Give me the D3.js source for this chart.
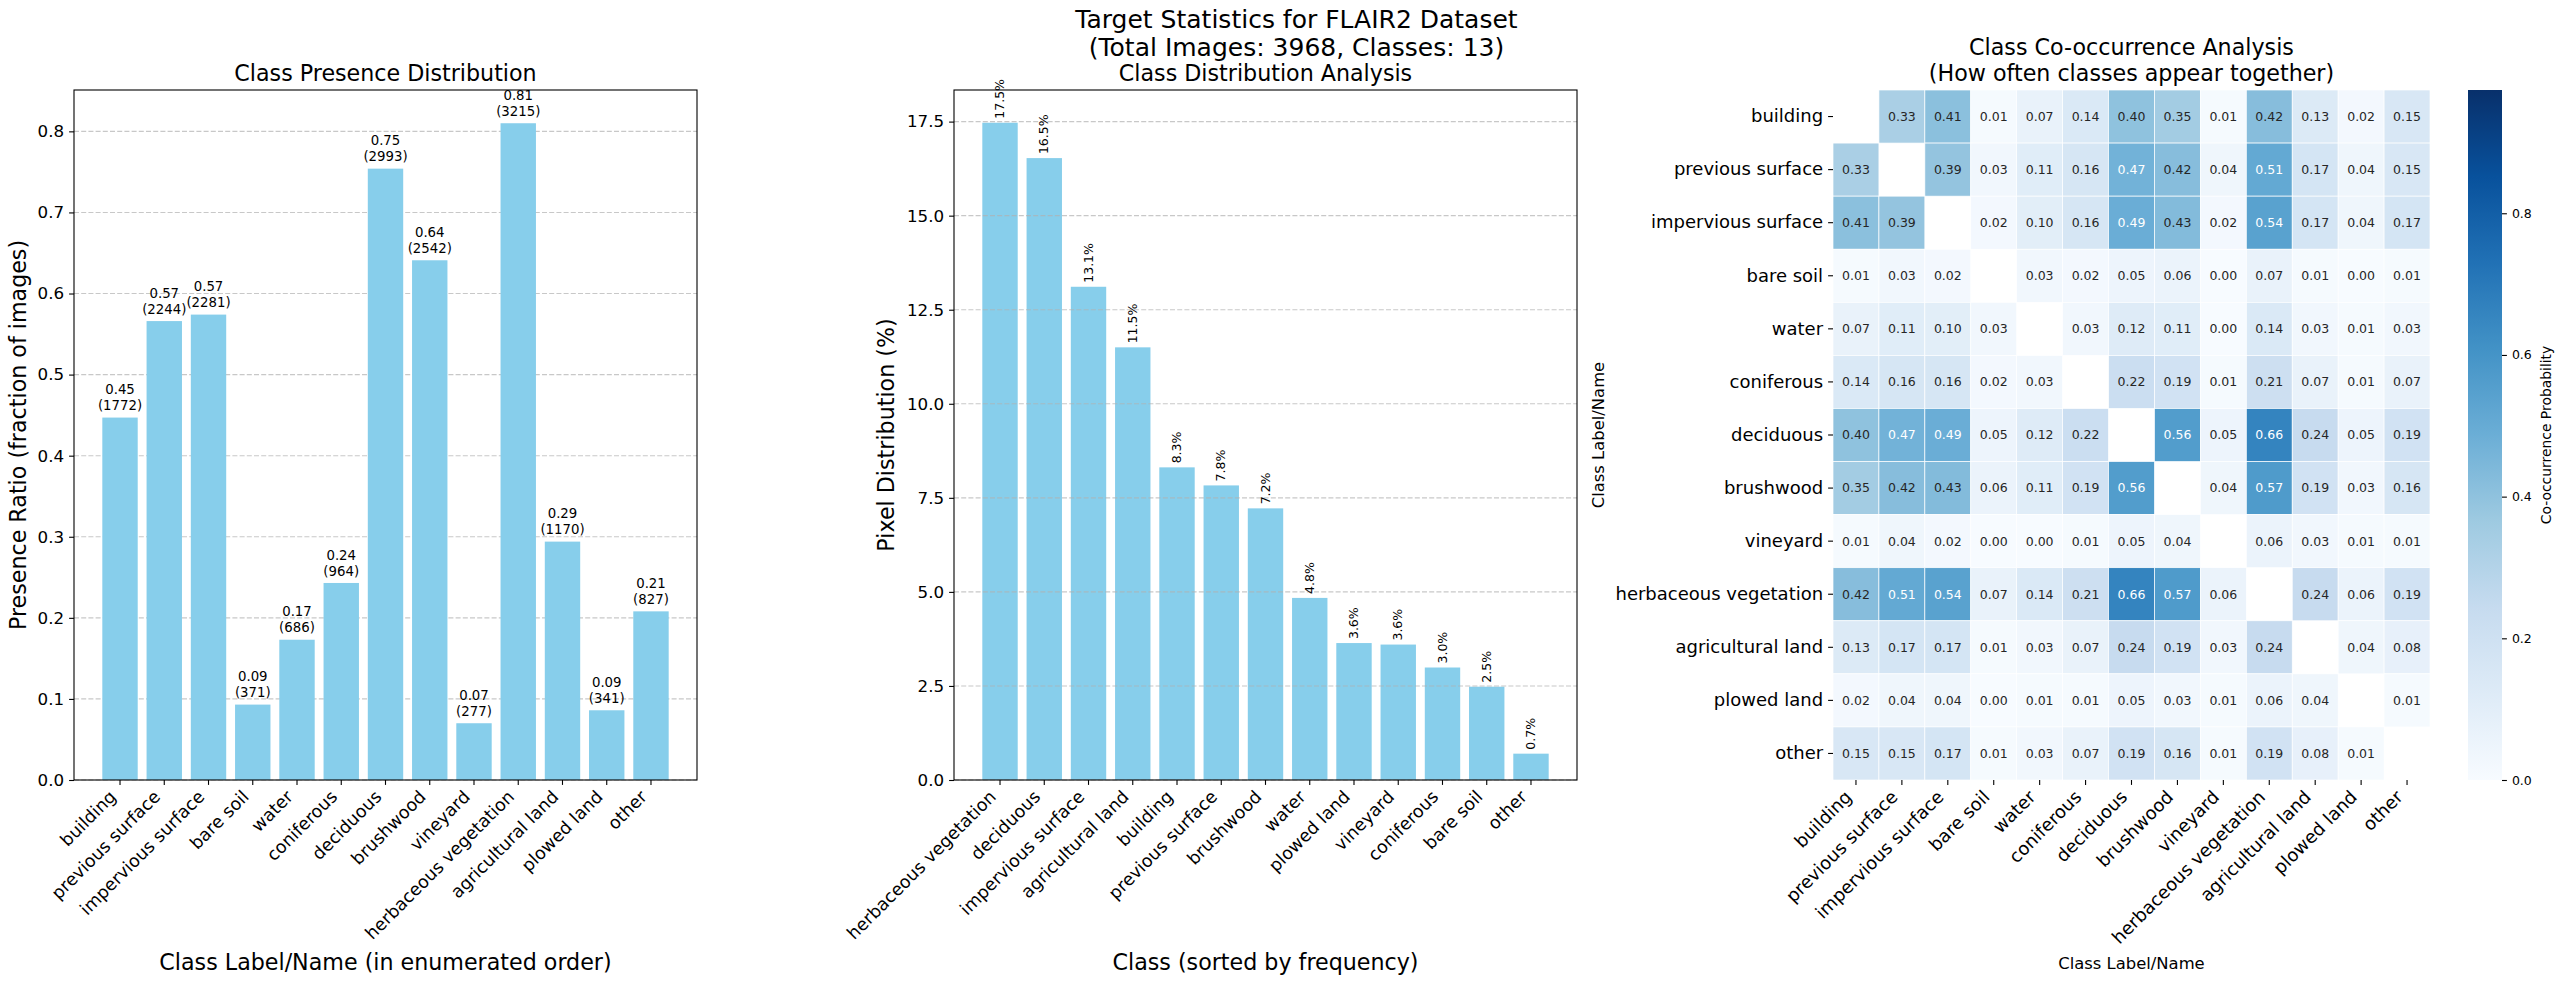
<!DOCTYPE html>
<html lang="en">
<head>
  <meta charset="UTF-8">
  <title>FLAIR2 target statistics</title>
  <script src="https://d3js.org/d3.v7.min.js"></script>
  <style>
    html, body {
      margin: 0;
      padding: 0;
      background: #fff;
      overflow: hidden;
    }
    svg {
      display: block;
      font-family: "DejaVu Sans", sans-serif;
    }
  </style>
</head>
<body>
  <svg id="chart" width="2563" height="985"></svg>
  <script>
    // ---- data ----
    const classes = ['building', 'previous surface', 'impervious surface', 'bare soil', 'water',
      'coniferous', 'deciduous', 'brushwood', 'vineyard', 'herbaceous vegetation',
      'agricultural land', 'plowed land', 'other'];
    const presenceRatio = [0.447, 0.566, 0.574, 0.093, 0.173, 0.243, 0.754, 0.641, 0.070, 0.810, 0.294, 0.086, 0.208];
    const presenceCount = [1772, 2244, 2281, 371, 686, 964, 2993, 2542, 277, 3215, 1170, 341, 827];
    const presenceTicks = [0.0, 0.1, 0.2, 0.3, 0.4, 0.5, 0.6, 0.7, 0.8];

    const sortedClasses = ['herbaceous vegetation', 'deciduous', 'impervious surface', 'agricultural land',
      'building', 'previous surface', 'brushwood', 'water', 'plowed land', 'vineyard',
      'coniferous', 'bare soil', 'other'];
    const pixelPercent = [17.47, 16.53, 13.11, 11.50, 8.31, 7.83, 7.22, 4.84, 3.64, 3.60, 2.99, 2.48, 0.70];
    const pixelTicks = [0.0, 2.5, 5.0, 7.5, 10.0, 12.5, 15.0, 17.5];

    // co-occurrence matrix, diagonal masked (null)
    const cooc = [
      [null, 0.33, 0.41, 0.01, 0.07, 0.14, 0.40, 0.35, 0.01, 0.42, 0.13, 0.02, 0.15],
      [0.33, null, 0.39, 0.03, 0.11, 0.16, 0.47, 0.42, 0.04, 0.51, 0.17, 0.04, 0.15],
      [0.41, 0.39, null, 0.02, 0.10, 0.16, 0.49, 0.43, 0.02, 0.54, 0.17, 0.04, 0.17],
      [0.01, 0.03, 0.02, null, 0.03, 0.02, 0.05, 0.06, 0.00, 0.07, 0.01, 0.00, 0.01],
      [0.07, 0.11, 0.10, 0.03, null, 0.03, 0.12, 0.11, 0.00, 0.14, 0.03, 0.01, 0.03],
      [0.14, 0.16, 0.16, 0.02, 0.03, null, 0.22, 0.19, 0.01, 0.21, 0.07, 0.01, 0.07],
      [0.40, 0.47, 0.49, 0.05, 0.12, 0.22, null, 0.56, 0.05, 0.66, 0.24, 0.05, 0.19],
      [0.35, 0.42, 0.43, 0.06, 0.11, 0.19, 0.56, null, 0.04, 0.57, 0.19, 0.03, 0.16],
      [0.01, 0.04, 0.02, 0.00, 0.00, 0.01, 0.05, 0.04, null, 0.06, 0.03, 0.01, 0.01],
      [0.42, 0.51, 0.54, 0.07, 0.14, 0.21, 0.66, 0.57, 0.06, null, 0.24, 0.06, 0.19],
      [0.13, 0.17, 0.17, 0.01, 0.03, 0.07, 0.24, 0.19, 0.03, 0.24, null, 0.04, 0.08],
      [0.02, 0.04, 0.04, 0.00, 0.01, 0.01, 0.05, 0.03, 0.01, 0.06, 0.04, null, 0.01],
      [0.15, 0.15, 0.17, 0.01, 0.03, 0.07, 0.19, 0.16, 0.01, 0.19, 0.08, 0.01, null]
    ];
    const colorbarTicks = [0.0, 0.2, 0.4, 0.6, 0.8];
    const colorbarMax = 0.974;

    // ---- layout ----
    const svg = d3.select('#chart');
    const TOP = 90, BOTTOM = 780;
    const barColor = '#87ceeb';
    const tickLen = 4.9;

    function styleAxis(g, size) {
      g.attr('font-family', null).attr('font-size', size);
      g.select('.domain').remove();
      g.selectAll('.tick line').attr('stroke', '#000').attr('stroke-width', 1.1);
      g.selectAll('.tick text').attr('fill', '#000');
    }

    function rotateLabels(g, size) {
      g.selectAll('.tick text')
        .attr('y', null).attr('dy', null)
        .attr('text-anchor', 'end')
        .attr('transform', `translate(${-0.707 * 0.236 * size},${8.4 + 0.707 * 0.76 * size}) rotate(-45)`);
    }

    function drawBars(cfg) {
      const g = svg.append('g');
      const x = d3.scaleBand().domain(cfg.cats)
        .range([cfg.left, cfg.right]).paddingInner(0.2).paddingOuter(0.64);
      const y = d3.scaleLinear().domain([0, cfg.yMax]).range([BOTTOM, TOP]);

      const grid = () => g.append('g').selectAll('line').data(cfg.ticks).join('line')
        .attr('x1', cfg.left).attr('x2', cfg.right)
        .attr('y1', d => y(d)).attr('y2', d => y(d))
        .attr('stroke', '#b0b0b0').attr('stroke-opacity', 0.7)
        .attr('stroke-width', 1.1).attr('stroke-dasharray', '5,2.2');

      if (!cfg.gridOnTop) grid();
      g.append('g').selectAll('rect').data(cfg.values).join('rect')
        .attr('x', (d, i) => x(cfg.cats[i]))
        .attr('width', x.bandwidth())
        .attr('y', d => y(d))
        .attr('height', d => BOTTOM - y(d))
        .attr('fill', barColor);
      if (cfg.gridOnTop) grid();

      cfg.annotate(g, x, y);

      const yAx = g.append('g').attr('transform', `translate(${cfg.left},0)`)
        .call(d3.axisLeft(y).tickValues(cfg.ticks).tickFormat(cfg.fmt).tickSize(tickLen).tickPadding(5));
      styleAxis(yAx, 16.7);

      const xAx = g.append('g').attr('transform', `translate(0,${BOTTOM})`)
        .call(d3.axisBottom(x).tickSize(tickLen));
      styleAxis(xAx, 17.5);
      rotateLabels(xAx, 17.5);

      g.append('rect')
        .attr('x', cfg.left).attr('y', TOP)
        .attr('width', cfg.right - cfg.left).attr('height', BOTTOM - TOP)
        .attr('fill', 'none').attr('stroke', '#000').attr('stroke-width', 1.1);

      const cx = (cfg.left + cfg.right) / 2;
      g.append('text').attr('x', cx).attr('y', 81).attr('text-anchor', 'middle')
        .attr('font-size', 22.2).text(cfg.title);
      g.append('text').attr('x', cx).attr('y', 970).attr('text-anchor', 'middle')
        .attr('font-size', 22.2).text(cfg.xlabel);
      g.append('text')
        .attr('transform', `translate(${cfg.ylabelX},${(TOP + BOTTOM) / 2}) rotate(-90)`)
        .attr('text-anchor', 'middle').attr('font-size', 22.2).text(cfg.ylabel);
    }

    // panel 1: presence ratio
    drawBars({
      left: 74, right: 697, yMax: 0.851,
      cats: classes, values: presenceRatio, ticks: presenceTicks,
      fmt: d3.format('.1f'), gridOnTop: false,
      title: 'Class Presence Distribution',
      xlabel: 'Class Label/Name (in enumerated order)',
      ylabel: 'Presence Ratio (fraction of images)', ylabelX: 26,
      annotate(g, x, y) {
        const t = g.append('g').attr('font-size', 13.3).attr('text-anchor', 'middle');
        presenceRatio.forEach((v, i) => {
          const cx = x(classes[i]) + x.bandwidth() / 2;
          const txt = t.append('text').attr('x', cx).attr('y', y(v) - 7.3 - 16);
          txt.append('tspan').attr('x', cx).text(v.toFixed(2));
          txt.append('tspan').attr('x', cx).attr('dy', 16).text(`(${presenceCount[i]})`);
        });
      }
    });

    // panel 2: pixel distribution
    drawBars({
      left: 954, right: 1577, yMax: 18.34,
      cats: sortedClasses, values: pixelPercent, ticks: pixelTicks,
      fmt: d3.format('.1f'), gridOnTop: true,
      title: 'Class Distribution Analysis',
      xlabel: 'Class (sorted by frequency)',
      ylabel: 'Pixel Distribution (%)', ylabelX: 893.5,
      annotate(g, x, y) {
        g.append('g').attr('font-size', 12.5).selectAll('text').data(pixelPercent).join('text')
          .attr('transform', (d, i) =>
            `translate(${x(sortedClasses[i]) + x.bandwidth() / 2 + 4.2},${y(d) - 4}) rotate(-90)`)
          .text(d => d.toFixed(1) + '%');
      }
    });

    // suptitle
    svg.append('text').attr('x', 1296.5).attr('y', 28).attr('text-anchor', 'middle')
      .attr('font-size', 25).text('Target Statistics for FLAIR2 Dataset');
    svg.append('text').attr('x', 1296.5).attr('y', 56).attr('text-anchor', 'middle')
      .attr('font-size', 25).text('(Total Images: 3968, Classes: 13)');

    // panel 3: co-occurrence heatmap
    const hm = svg.append('g');
    const hx = d3.scaleBand().domain(classes).range([1833, 2430]);
    const hy = d3.scaleBand().domain(classes).range([TOP, BOTTOM]);
    const blues = ['#f7fbff', '#deebf7', '#c6dbef', '#9ecae1', '#6baed6', '#4292c6', '#2171b5', '#08519c', '#08306b'];
    const color = d3.scaleLinear()
      .domain(blues.map((c, i) => i / 8 * colorbarMax))
      .range(blues).clamp(true);

    function textColor(v) {
      const c = d3.rgb(color(v));
      const lin = u => { u /= 255; return u <= 0.03928 ? u / 12.92 : Math.pow((u + 0.055) / 1.055, 2.4); };
      const lum = 0.2126 * lin(c.r) + 0.7152 * lin(c.g) + 0.0722 * lin(c.b);
      return lum > 0.408 ? '#262626' : '#ffffff';
    }

    const cells = [];
    cooc.forEach((row, i) => row.forEach((v, j) => {
      if (v !== null) cells.push({ r: classes[i], c: classes[j], v });
    }));

    hm.append('g').selectAll('rect').data(cells).join('rect')
      .attr('x', d => hx(d.c)).attr('y', d => hy(d.r))
      .attr('width', hx.bandwidth()).attr('height', hy.bandwidth())
      .attr('fill', d => color(d.v))
      .attr('stroke', '#fff').attr('stroke-width', 0.7);

    hm.append('g').attr('font-size', 12.5).attr('text-anchor', 'middle')
      .selectAll('text').data(cells).join('text')
      .attr('x', d => hx(d.c) + hx.bandwidth() / 2)
      .attr('y', d => hy(d.r) + hy.bandwidth() / 2)
      .attr('dy', '0.35em')
      .attr('fill', d => textColor(d.v))
      .text(d => d.v.toFixed(2));

    const hyAx = hm.append('g').attr('transform', 'translate(1833,0)')
      .call(d3.axisLeft(hy).tickSize(tickLen).tickPadding(5));
    styleAxis(hyAx, 18);
    const hxAx = hm.append('g').attr('transform', `translate(0,${BOTTOM})`)
      .call(d3.axisBottom(hx).tickSize(tickLen));
    styleAxis(hxAx, 18);
    rotateLabels(hxAx, 18);

    hm.append('text').attr('x', 2131.5).attr('y', 54.5).attr('text-anchor', 'middle')
      .attr('font-size', 22.2).text('Class Co-occurrence Analysis');
    hm.append('text').attr('x', 2131.5).attr('y', 81).attr('text-anchor', 'middle')
      .attr('font-size', 22.2).text('(How often classes appear together)');
    hm.append('text').attr('x', 2131.5).attr('y', 969).attr('text-anchor', 'middle')
      .attr('font-size', 16.4).text('Class Label/Name');
    hm.append('text')
      .attr('transform', `translate(1604,${(TOP + BOTTOM) / 2}) rotate(-90)`)
      .attr('text-anchor', 'middle').attr('font-size', 16.4).text('Class Label/Name');

    // colorbar
    const cbX = 2468, cbW = 34;
    const grad = svg.append('defs').append('linearGradient')
      .attr('id', 'cbgrad').attr('x1', 0).attr('y1', 1).attr('x2', 0).attr('y2', 0);
    grad.selectAll('stop').data(blues).join('stop')
      .attr('offset', (d, i) => i / 8).attr('stop-color', d => d);
    svg.append('rect').attr('x', cbX).attr('y', TOP).attr('width', cbW).attr('height', BOTTOM - TOP)
      .attr('fill', 'url(#cbgrad)');
    const cbScale = d3.scaleLinear().domain([0, colorbarMax]).range([BOTTOM, TOP]);
    const cbAx = svg.append('g').attr('transform', `translate(${cbX + cbW},0)`)
      .call(d3.axisRight(cbScale).tickValues(colorbarTicks).tickFormat(d3.format('.1f'))
        .tickSize(tickLen).tickPadding(5));
    styleAxis(cbAx, 12.5);
    svg.append('text')
      .attr('transform', `translate(2550.5,${(TOP + BOTTOM) / 2}) rotate(-90)`)
      .attr('text-anchor', 'middle').attr('font-size', 13.9).text('Co-occurrence Probability');
  </script>
</body>
</html>
